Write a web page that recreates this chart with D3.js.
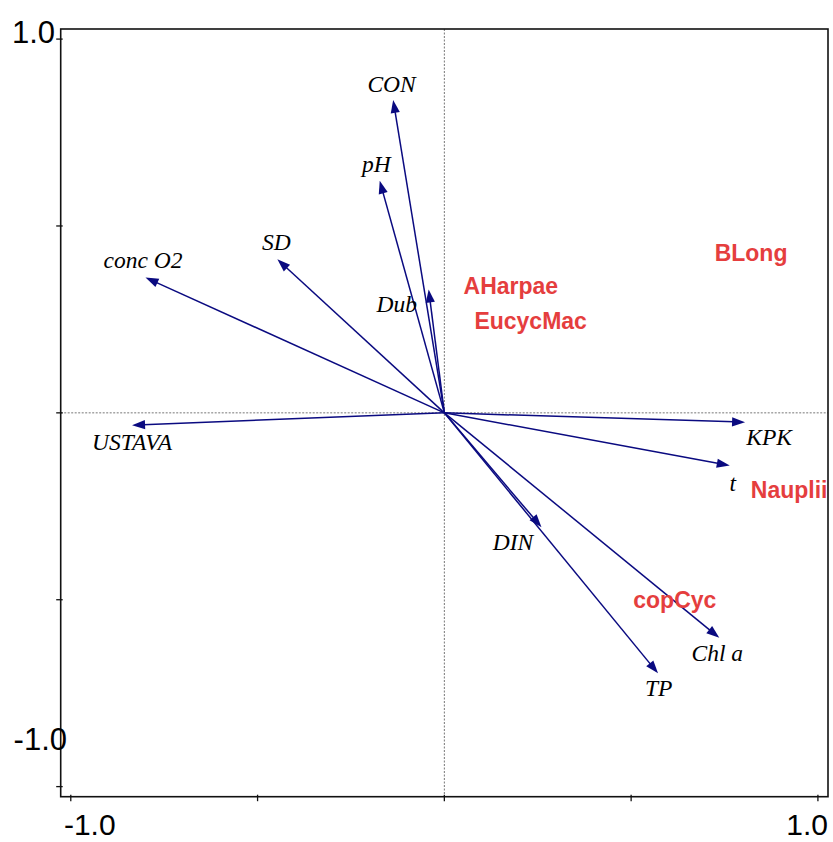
<!DOCTYPE html>
<html><head><meta charset="utf-8">
<script src="https://cdn.jsdelivr.net/npm/d3@7"></script>
<style>html,body{margin:0;padding:0;background:#fff;}</style>
</head><body>
<svg id="chart" width="833" height="842"></svg>
<script>
// ---- data ----
const envNames = ["CON","pH","SD","conc O2","Dub","USTAVA","KPK","t","DIN","Chl a","TP"];
const envX = [-0.137,-0.173,-0.447,-0.800,-0.042,-0.836,0.805,0.764,0.260,0.736,0.572];
const envY = [0.837,0.621,0.411,0.362,0.330,-0.033,-0.025,-0.141,-0.306,-0.602,-0.697];
const speciesNames = ["BLong","AHarpae","EucycMac","Nauplii","copCyc"];
const speciesX = [0.821,0.178,0.231,0.923,0.617];
const speciesY = [0.429,0.339,0.246,-0.207,-0.500];
const tickValues = [-1,-0.5,0,0.5,1];
const axisLabelValues = [-1,1];
const axisLabelTexts = ["-1.0","1.0"];

// ---- layout (pixel offsets of labels from arrow tips) ----
const labelOffsets = [[-1.6,-8],[-3.3,-8.7],[-1,-9],[-2.4,-10],[-32,22.4],[0,25],[24,22.6],[3,25],[-28.4,22.6],[-2,22.7],[0.7,22.3]];

const svg = d3.select("#chart");
const L = 60.7, R = 828, T = 29, B = 796.7;
const x = d3.scaleLinear().domain([-1.027,1.027]).range([L,R]);
const y = d3.scaleLinear().domain([-1.027,1.027]).range([B,T]);

svg.append("defs").append("clipPath").attr("id","clip")
  .append("rect").attr("x",L).attr("y",T).attr("width",R-L).attr("height",B-T);

const plot = svg.append("g").attr("clip-path","url(#clip)");

// dotted axes through origin
plot.append("line").attr("x1",L).attr("x2",R).attr("y1",y(0)).attr("y2",y(0))
  .attr("stroke","#777").attr("stroke-width",1).attr("stroke-dasharray","2,1.5");
plot.append("line").attr("x1",x(0)).attr("x2",x(0)).attr("y1",T).attr("y2",B)
  .attr("stroke","#777").attr("stroke-width",1).attr("stroke-dasharray","2,1.5");

// arrows
const navy = "#0a0a80";
const env = envNames.map((n,i)=>({name:n, x:envX[i], y:envY[i], off:labelOffsets[i]}));
const ag = plot.append("g");
env.forEach(d=>{
  const x0 = x(0), y0 = y(0), x1 = x(d.x), y1 = y(d.y);
  const dx = x1-x0, dy = y1-y0, len = Math.hypot(dx,dy);
  const ux = dx/len, uy = dy/len;
  const hl = 13, hw = 4.6;
  const bx = x1-ux*hl, by = y1-uy*hl;
  ag.append("line").attr("x1",x0).attr("y1",y0).attr("x2",bx+ux*2).attr("y2",by+uy*2)
    .attr("stroke",navy).attr("stroke-width",1.5);
  ag.append("polygon")
    .attr("points",[[x1,y1],[bx-uy*hw,by+ux*hw],[bx+uy*hw,by-ux*hw]].map(p=>p.join(",")).join(" "))
    .attr("fill",navy);
  ag.append("text").attr("x",x1+d.off[0]).attr("y",y1+d.off[1])
    .attr("text-anchor","middle")
    .attr("font-family","'Liberation Serif','Times New Roman',serif")
    .attr("font-style","italic").attr("font-size",23.5).attr("fill","#000")
    .text(d.name);
});

// species labels
speciesNames.forEach((n,i)=>{
  plot.append("text").attr("x",x(speciesX[i])).attr("y",y(speciesY[i]))
    .attr("dy","0.36em").attr("text-anchor","middle")
    .attr("font-family","'Liberation Sans',Arial,sans-serif")
    .attr("font-weight","bold").attr("font-size",23).attr("fill","#e53e3e")
    .text(n);
});

// frame
svg.append("rect").attr("x",L).attr("y",T).attr("width",R-L).attr("height",B-T)
  .attr("fill","none").attr("stroke","#111").attr("stroke-width",1.6);

// ticks
tickValues.forEach(v=>{
  svg.append("line").attr("x1",x(v)).attr("x2",x(v)).attr("y1",B-2).attr("y2",B+4.5)
    .attr("stroke","#111").attr("stroke-width",1.3);
  svg.append("line").attr("x1",L-4.5).attr("x2",L+2).attr("y1",y(v)).attr("y2",y(v))
    .attr("stroke","#111").attr("stroke-width",1.3);
});

// axis labels
const font = "'Liberation Sans',Arial,sans-serif";
// y labels
svg.append("text").attr("x",55).attr("y",y(axisLabelValues[1])+4).attr("text-anchor","end")
  .attr("font-family",font).attr("font-size",31).text(axisLabelTexts[1]);
svg.append("text").attr("x",67).attr("y",y(axisLabelValues[0])-37).attr("text-anchor","end")
  .attr("font-family",font).attr("font-size",31).text(axisLabelTexts[0]);
// x labels
svg.append("text").attr("x",x(axisLabelValues[0])+19).attr("y",835).attr("text-anchor","middle")
  .attr("font-family",font).attr("font-size",30).text(axisLabelTexts[0]);
svg.append("text").attr("x",828).attr("y",835).attr("text-anchor","end")
  .attr("font-family",font).attr("font-size",30).text(axisLabelTexts[1]);
</script>
</body></html>
